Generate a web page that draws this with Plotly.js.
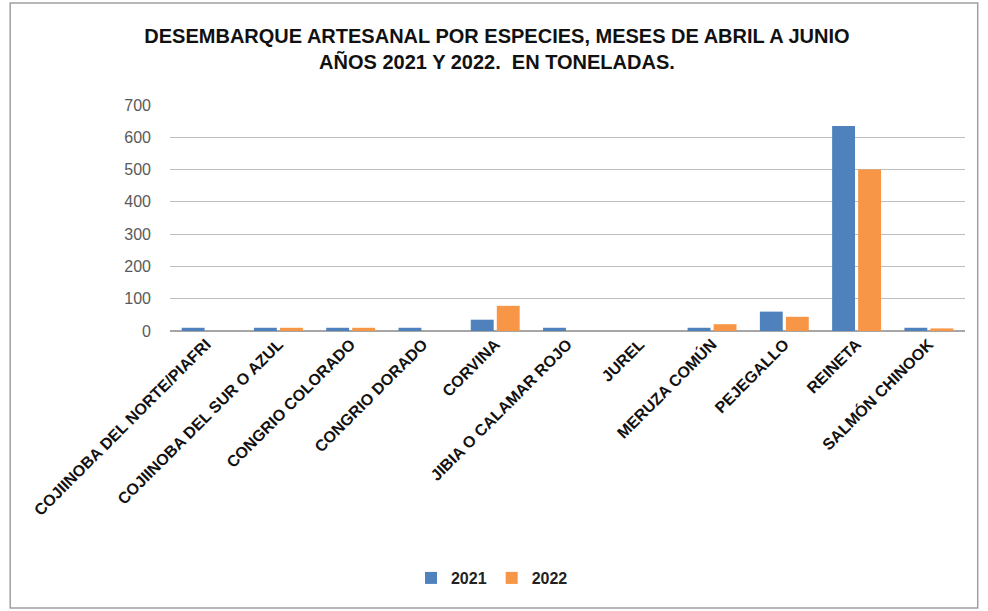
<!DOCTYPE html>
<html>
<head>
<meta charset="utf-8">
<script src="https://cdn.plot.ly/plotly-3.0.1.min.js"></script>
<style>
  body { margin: 0; background: #fff; }
  #chart { width: 988px; height: 611px; }
</style>
</head>
<body>
<div id="chart"></div>
<script>
// species (x categories), spelled as in the source chart
var especies = ['COJIINOBA DEL NORTE/PIAFRI', 'COJIINOBA DEL SUR O AZUL', 'CONGRIO COLORADO',
    'CONGRIO DORADO', 'CORVINA', 'JIBIA O CALAMAR ROJO', 'JUREL', 'MERUZA COMÚN',
    'PEJEGALLO', 'REINETA', 'SALMÓN CHINOOK'];
// tonnes
var t2021 = [10, 10, 10, 10, 35, 10, 0, 10, 60, 635, 10];
var t2022 = [0, 10, 10, 0, 78, 0, 0, 21, 44, 500, 8];
var yTicks = [0, 100, 200, 300, 400, 500, 600, 700];

var trace1 = {
    type: 'bar',
    name: '2021',
    x: especies,
    y: t2021,
    marker: {color: '#4f81bd'}
};
var trace2 = {
    type: 'bar',
    name: '2022',
    x: especies,
    y: t2022,
    marker: {color: '#f79646'}
};

var layout = {
    width: 988,
    height: 611,
    paper_bgcolor: '#fff',
    plot_bgcolor: '#fff',
    font: {family: 'Liberation Sans, Arial, sans-serif', color: '#404040'},
    title: {
        text: 'DESEMBARQUE ARTESANAL POR ESPECIES, MESES DE ABRIL A JUNIO<br>AÑOS 2021 Y 2022.  EN TONELADAS.',
        x: 0.503,
        y: 0.929,
        yanchor: 'middle',
        font: {size: 20, color: '#111', weight: 'bold'}
    },
    margin: {l: 170, r: 23, t: 105, b: 280, pad: 0},
    barmode: 'group',
    bargap: 0.28,
    bargroupgap: 0.12,
    showlegend: true,
    legend: {
        orientation: 'h',
        x: 0.405,
        xanchor: 'center',
        yref: 'container',
        y: 0.054,
        yanchor: 'middle',
        itemwidth: 30,
        font: {size: 16, color: '#222', weight: 'bold'},
        traceorder: 'normal'
    },
    xaxis: {
        type: 'category',
        tickangle: -45,
        tickfont: {size: 16, color: '#111', weight: 'bold'},
        showgrid: false,
        showline: false,
        ticks: ''
    },
    yaxis: {
        range: [0, 700],
        tickvals: yTicks,
        ticktext: yTicks.map(String),
        tickfont: {size: 16, color: '#595959'},
        ticklabelstandoff: 18,
        showgrid: true,
        gridcolor: '#bdbdbd',
        gridwidth: 1,
        zeroline: true,
        zerolinecolor: '#a6a6a6',
        zerolinewidth: 1.5,
        ticks: ''
    },
    shapes: [{
        type: 'rect',
        xref: 'paper', yref: 'paper',
        x0: -0.201, x1: 1.016,
        y0: -1.226, y1: 1.451,
        line: {color: '#a0a0a0', width: 1.5},
        fillcolor: 'rgba(0,0,0,0)'
    }]
};

Plotly.newPlot('chart', [trace1, trace2], layout, {displayModeBar: false, staticPlot: true});
</script>
</body>
</html>
